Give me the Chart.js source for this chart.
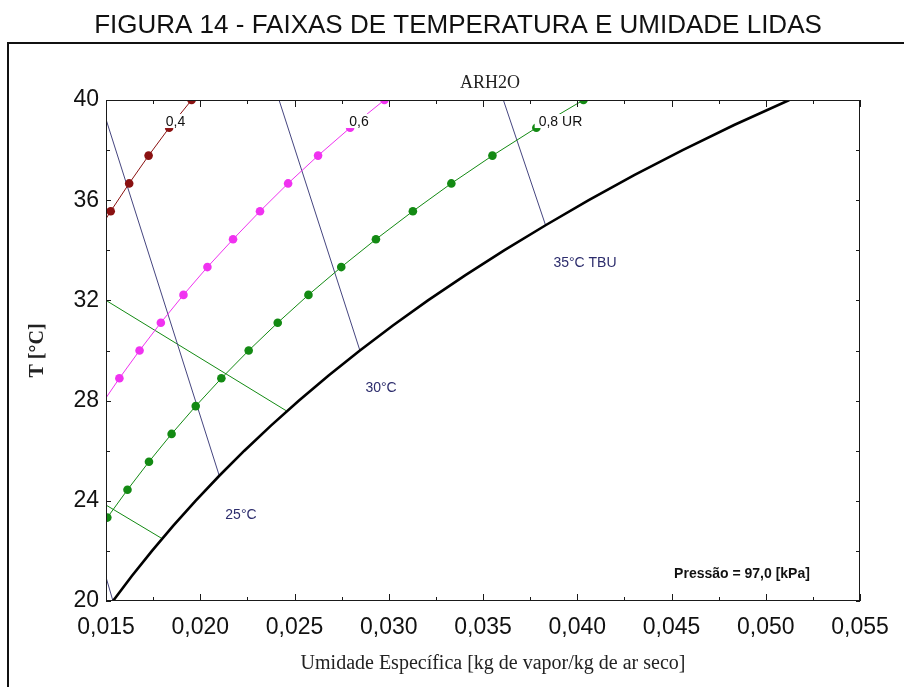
<!DOCTYPE html>
<html>
<head>
<meta charset="utf-8">
<script src="https://cdn.jsdelivr.net/npm/chart.js@4.4.1/dist/chart.umd.min.js"></script>
<style>
  html, body { margin: 0; padding: 0; background: #fff; }
  #wrap { width: 904px; height: 687px; }
</style>
</head>
<body>
<div id="wrap"><canvas id="chart" width="904" height="687"></canvas></div>
<script>
// Psychrometric chart (P = 97,0 kPa): saturation curve, RH curves, wet-bulb lines

// Saturation curve (UR = 1,0)
const satT = [20, 21, 22, 23, 24, 25, 26, 27, 28, 29, 30, 31, 32, 33, 34, 35, 36, 37, 38, 39, 40];
const satW = [0.01537, 0.01637, 0.01744, 0.01856, 0.01975, 0.02101, 0.02234, 0.02375, 0.02524, 0.02681,
              0.02847, 0.03022, 0.03208, 0.03405, 0.03612, 0.03832, 0.04061, 0.04302, 0.04559, 0.04832, 0.05125];

// Relative humidity curves (marked points)
const rh80T = [22.22, 23.33, 24.44, 25.56, 26.67, 27.78, 28.89, 30.00, 31.11, 32.22, 33.33, 34.44, 35.56, 36.67, 37.78, 38.89, 40.00];
const rh80W = [0.01406, 0.01507, 0.01614, 0.01728, 0.01848, 0.01976, 0.02112, 0.02257, 0.02411, 0.02574,
               0.02748, 0.02932, 0.03128, 0.03332, 0.03550, 0.03783, 0.04033];
const rh60T = [27.78, 28.89, 30.00, 31.11, 32.22, 33.33, 34.44, 35.56, 36.67, 37.78, 38.89, 40.00];
const rh60W = [0.01470, 0.01571, 0.01678, 0.01791, 0.01911, 0.02038, 0.02174, 0.02317, 0.02466, 0.02625, 0.02795, 0.02977];
const rh40T = [34.44, 35.56, 36.67, 37.78, 38.89, 40.00];
const rh40W = [0.01432, 0.01525, 0.01623, 0.01726, 0.01835, 0.01954];

// Wet-bulb temperature lines (TBU)
const tbu20W = [0.01500, 0.01537]; const tbu20T = [20.95, 20.00];
const tbu25W = [0.01500, 0.02101]; const tbu25T = [39.23, 25.00];
const tbu30W = [0.02418, 0.02847]; const tbu30T = [40.00, 30.00];
const tbu35W = [0.03608, 0.03832]; const tbu35T = [40.00, 35.00];

// Range limits read on the chart (green)
const limAW = [0.01500, 0.02455]; const limAT = [32.00, 27.60];
const limBW = [0.01500, 0.01800]; const limBT = [23.83, 22.48];

// Axis ticks
const xTicks = [0.015, 0.020, 0.025, 0.030, 0.035, 0.040, 0.045, 0.050, 0.055];
const xTickLabels = ['0,015', '0,020', '0,025', '0,030', '0,035', '0,040', '0,045', '0,050', '0,055'];
const yTicks = [20, 24, 28, 32, 36, 40];
const yTickLabels = ['20', '24', '28', '32', '36', '40'];

// Annotations placed in data coordinates
const curveLabels = [
  { text: '0,4',    w: 0.01869, t: 39.12 },
  { text: '0,6',    w: 0.02842, t: 39.12 },
  { text: '0,8 UR', w: 0.03911, t: 39.12 }
];
const tbuLabels = [
  { text: '25°C',     w: 0.02216, t: 23.43 },
  { text: '30°C',     w: 0.02959, t: 28.50 },
  { text: '35°C TBU', w: 0.04041, t: 33.49 }
];
const pressureLabel = { text: 'Pressão = 97,0 [kPa]', w: 0.04874, t: 21.08 };

const FIGURE_TITLE = 'FIGURA 14 - FAIXAS DE TEMPERATURA E UMIDADE LIDAS';
const PLOT_TITLE = 'ARH2O';
const X_TITLE = 'Umidade Específica [kg de vapor/kg de ar seco]';
const Y_TITLE = 'T [°C]';

const SANS = "'Liberation Sans', Arial, Helvetica, sans-serif";
const SERIF = "'Liberation Serif', 'Times New Roman', Times, serif";

const COL_RH40 = '#8a1111';
const COL_RH60 = '#f032f0';
const COL_RH80 = '#138a13';
const COL_TBU = '#45457f';
const COL_TBU_TEXT = '#2c2c6c';

function pts(ws, ts) { return ws.map((w, i) => ({ x: w, y: ts[i] })); }

function lineSet(label, ws, ts, color, width, radius, order) {
  return {
    label, data: pts(ws, ts), showLine: true, borderColor: color, backgroundColor: color,
    borderWidth: width, pointRadius: radius, pointHoverRadius: radius, pointBorderWidth: 0,
    tension: 0, clip: 0, order
  };
}

const datasets = [
  lineSet('Saturação', satW, satT, '#000000', 2.6, 0, 0),
  lineSet('UR 0,4', rh40W, rh40T, COL_RH40, 1, 4.3, 2),
  lineSet('UR 0,6', rh60W, rh60T, COL_RH60, 1, 4.3, 2),
  lineSet('UR 0,8', rh80W, rh80T, COL_RH80, 1, 4.3, 2),
  lineSet('TBU 20', tbu20W, tbu20T, COL_TBU, 1, 0, 3),
  lineSet('TBU 25', tbu25W, tbu25T, COL_TBU, 1, 0, 3),
  lineSet('TBU 30', tbu30W, tbu30T, COL_TBU, 1, 0, 3),
  lineSet('TBU 35', tbu35W, tbu35T, COL_TBU, 1, 0, 3),
  lineSet('Faixa A', limAW, limAT, COL_RH80, 1, 0, 3),
  lineSet('Faixa B', limBW, limBT, COL_RH80, 1, 0, 3)
];

function drawLabel(ctx, text, px, py, font, color, withBg) {
  ctx.font = font;
  ctx.textAlign = 'center';
  ctx.textBaseline = 'middle';
  if (withBg) {
    const w = ctx.measureText(text).width;
    ctx.fillStyle = '#ffffff';
    ctx.fillRect(px - w / 2 - 4, py - 8, w + 8, 14);
  }
  ctx.fillStyle = color;
  ctx.fillText(text, px, py);
}

const decor = {
  id: 'decor',
  beforeDraw(chart) {
    const ctx = chart.ctx;
    ctx.save();
    ctx.fillStyle = '#ffffff';
    ctx.fillRect(0, 0, chart.width, chart.height);
    // figure caption above the framed chart
    drawLabel(ctx, FIGURE_TITLE, 458, 26, '26px ' + SANS, '#111111', false);
    // outer figure frame
    ctx.strokeStyle = '#111111';
    ctx.lineWidth = 2;
    ctx.strokeRect(8, 43, chart.width + 40, chart.height + 40);
    ctx.restore();
  },
  afterDatasetsDraw(chart) {
    const { ctx, chartArea: a, scales: { x, y } } = chart;
    ctx.save();
    // plot frame
    ctx.strokeStyle = '#1a1a1a';
    ctx.lineWidth = 1;
    ctx.strokeRect(Math.round(a.left) + 0.5, Math.round(a.top) + 0.5,
                   Math.round(a.right - a.left) - 1, Math.round(a.bottom - a.top) - 1);
    // inward ticks on all four sides
    ctx.beginPath();
    xTicks.forEach((v, i) => {
      const px = Math.round(x.getPixelForValue(v)) + 0.5;
      ctx.moveTo(px, a.bottom); ctx.lineTo(px, a.bottom - 7);
      ctx.moveTo(px, a.top); ctx.lineTo(px, a.top + 7);
      if (i < xTicks.length - 1) {
        const pm = Math.round(x.getPixelForValue((v + xTicks[i + 1]) / 2)) + 0.5;
        ctx.moveTo(pm, a.bottom); ctx.lineTo(pm, a.bottom - 4);
        ctx.moveTo(pm, a.top); ctx.lineTo(pm, a.top + 4);
      }
    });
    yTicks.forEach((v, i) => {
      const py = Math.round(y.getPixelForValue(v)) + 0.5;
      ctx.moveTo(a.left, py); ctx.lineTo(a.left + 5, py);
      ctx.moveTo(a.right, py); ctx.lineTo(a.right - 4, py);
      if (i < yTicks.length - 1) {
        const pm = Math.round(y.getPixelForValue((v + yTicks[i + 1]) / 2)) + 0.5;
        ctx.moveTo(a.left, pm); ctx.lineTo(a.left + 4, pm);
        ctx.moveTo(a.right, pm); ctx.lineTo(a.right - 4, pm);
      }
    });
    ctx.stroke();

    // curve labels with white boxes over the lines
    curveLabels.forEach(l => drawLabel(ctx, l.text, x.getPixelForValue(l.w), y.getPixelForValue(l.t),
      '14px ' + SANS, '#111111', true));
    tbuLabels.forEach(l => drawLabel(ctx, l.text, x.getPixelForValue(l.w), y.getPixelForValue(l.t),
      '14px ' + SANS, COL_TBU_TEXT, false));
    drawLabel(ctx, pressureLabel.text, x.getPixelForValue(pressureLabel.w), y.getPixelForValue(pressureLabel.t),
      'bold 14px ' + SANS, '#111111', false);

    // plot heading
    drawLabel(ctx, PLOT_TITLE, (a.left + a.right) / 2 + 7, a.top - 17, '18px ' + SERIF, '#222222', false);

    // x axis title
    drawLabel(ctx, X_TITLE, (a.left + a.right) / 2 + 10, 664, '20px ' + SERIF, '#222222', false);
    ctx.restore();
  }
};

new Chart(document.getElementById('chart'), {
  type: 'scatter',
  data: { datasets },
  plugins: [decor],
  options: {
    responsive: false,
    animation: false,
    devicePixelRatio: 1,
    layout: { padding: { top: 100, left: 0, right: 0, bottom: 0 } },
    plugins: {
      legend: { display: false },
      tooltip: { enabled: false },
      title: { display: false }
    },
    scales: {
      x: {
        type: 'linear', position: 'bottom', min: 0.015, max: 0.055,
        afterBuildTicks: s => { s.ticks = xTicks.map(v => ({ value: v })); },
        afterFit: s => { s.height = 86; },
        ticks: {
          autoSkip: false, maxRotation: 0, padding: 13, color: '#111111',
          font: { family: SANS, size: 23 },
          callback: (v, i) => xTickLabels[i]
        },
        grid: { display: false, drawTicks: false },
        border: { display: false }
      },
      y: {
        type: 'linear', position: 'left', min: 20, max: 40,
        afterBuildTicks: s => { s.ticks = yTicks.map(v => ({ value: v })); },
        afterFit: s => { s.width = 106; },
        ticks: {
          padding: 7, color: '#111111',
          font: { family: SANS, size: 23 },
          callback: (v, i) => yTickLabels[i]
        },
        grid: { display: false, drawTicks: false },
        border: { display: false },
        title: {
          display: true, text: Y_TITLE, color: '#222222',
          font: { family: SERIF, size: 20, weight: 'bold', lineHeight: 1.2 },
          padding: { top: 26, bottom: 0 }
        }
      },
      yRight: {
        type: 'linear', position: 'right', min: 20, max: 40,
        afterFit: s => { s.width = 44; },
        ticks: { display: false },
        grid: { display: false, drawTicks: false },
        border: { display: false }
      }
    }
  }
});
</script>
</body>
</html>
